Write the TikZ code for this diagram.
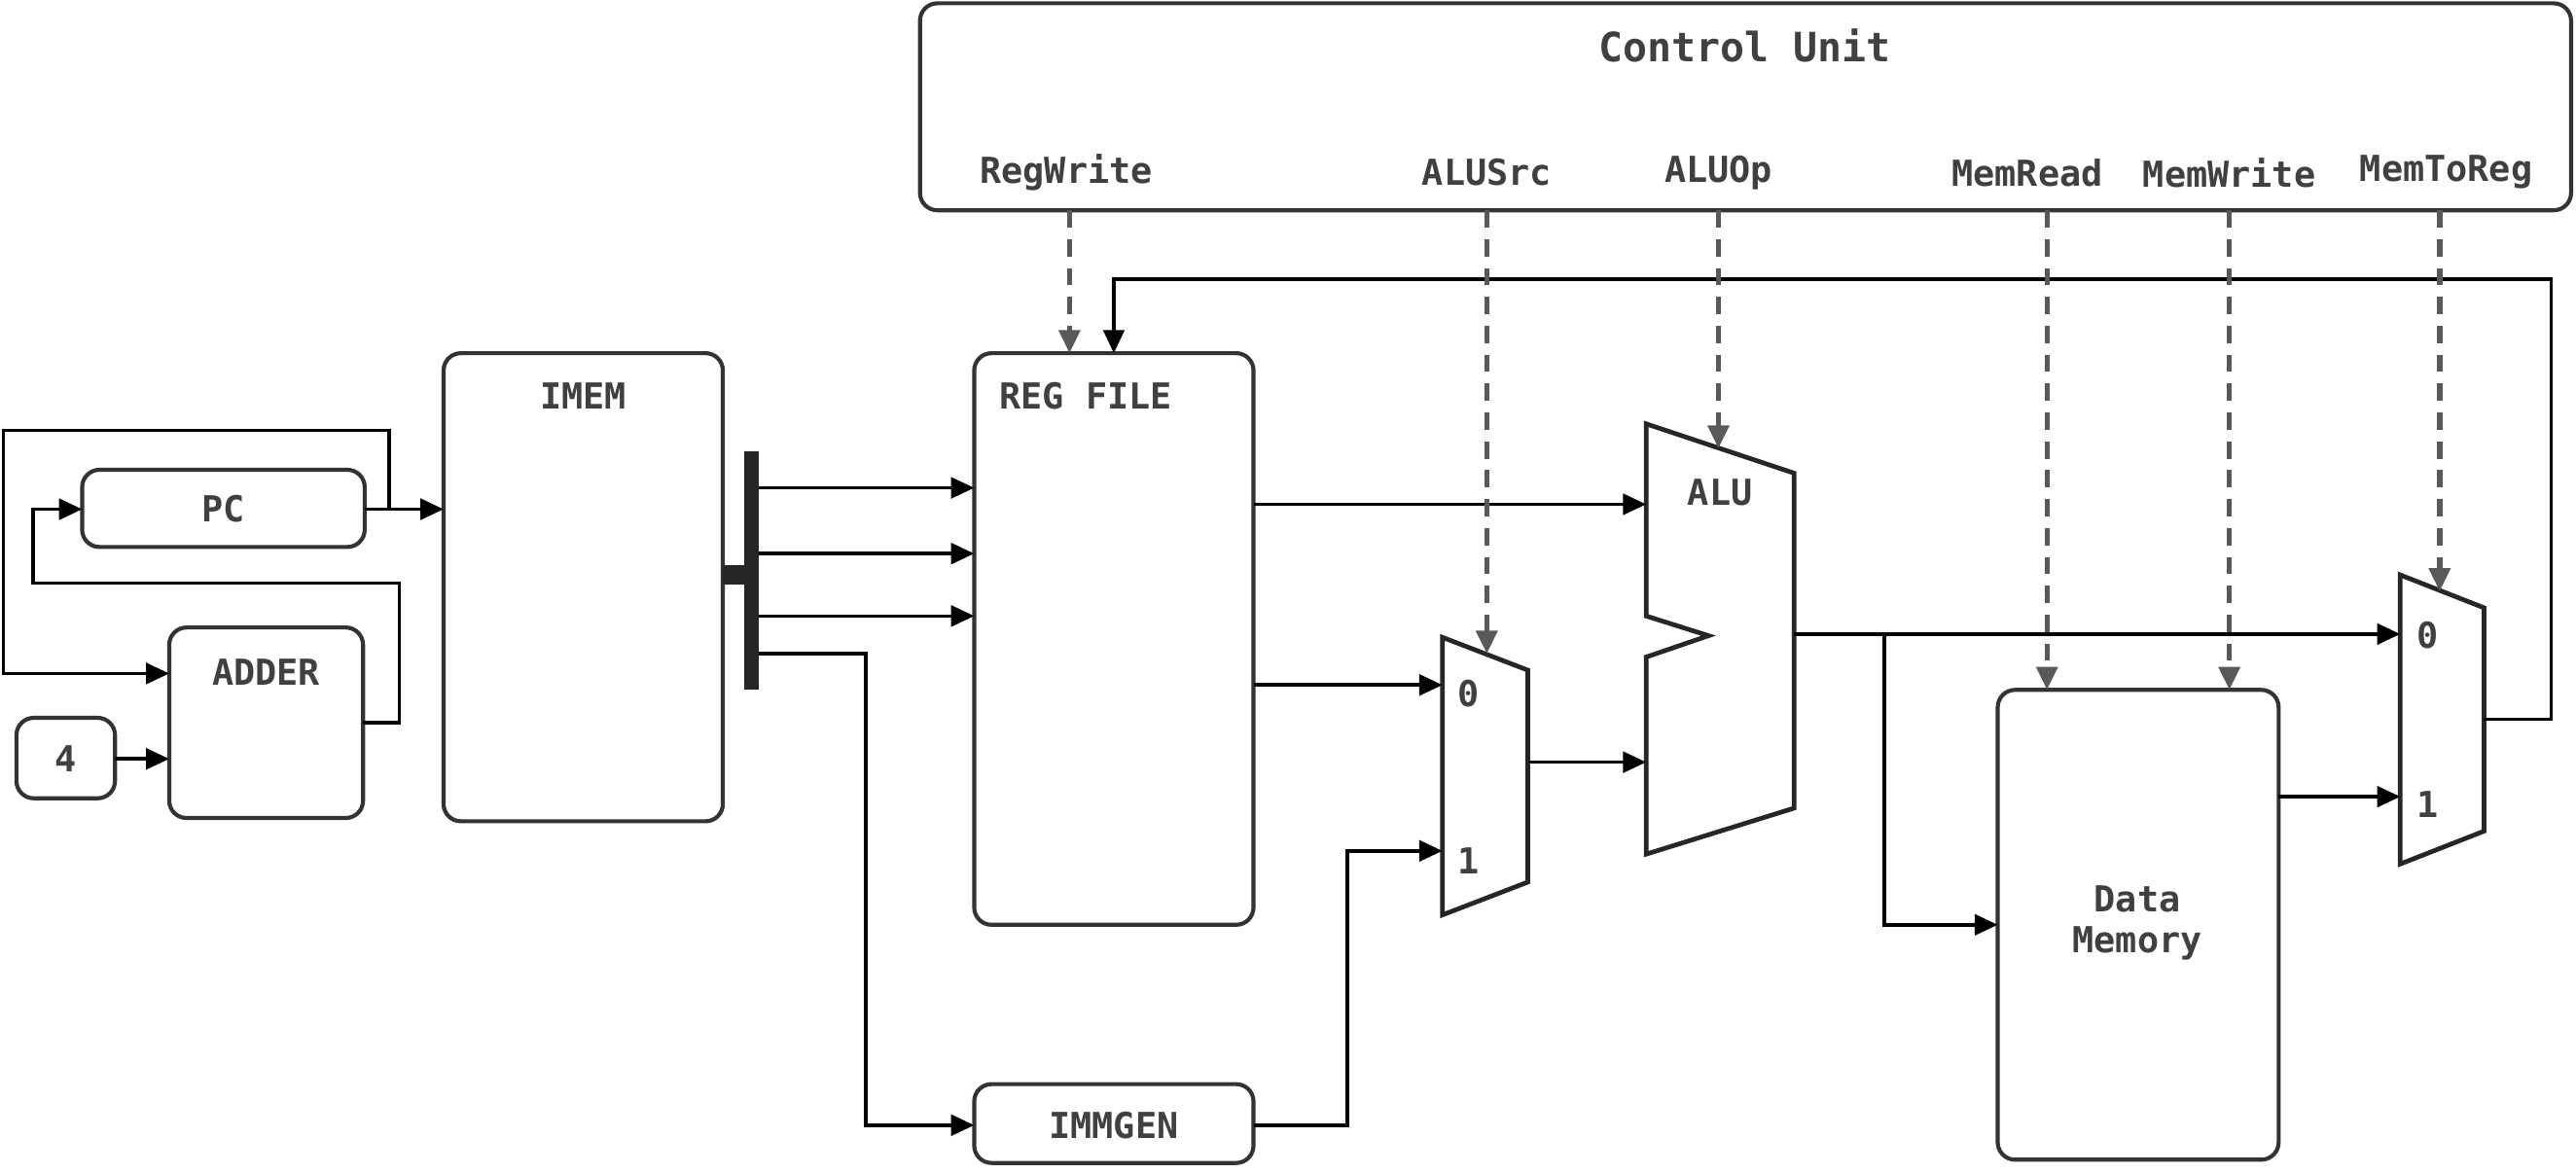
\documentclass[tikz,border=0pt]{standalone}
\usepackage{fontspec}
\setmonofont{DejaVu Sans Mono}
\usetikzlibrary{arrows.meta}
\begin{document}
\begin{tikzpicture}[x=0.01cm,y=-0.01cm,
  box/.style={draw=black!80,line width=0.7pt,rounded corners=3pt},
  lab/.style={font=\ttfamily\bfseries\fontsize{6.2}{7}\selectfont,text=black!75,inner sep=0},
  wire/.style={line width=0.6pt,-{Triangle[length=4pt,width=3.6pt]}},
  ctl/.style={draw=black!65,line width=0.9pt,dash pattern=on 3pt off 2pt,-{Triangle[length=4pt,width=3.6pt]}}]
\useasboundingbox (0,0) rectangle (1568,714);
% control unit
\draw[box] (560,2) rectangle (1565,128);
\node[lab,font=\ttfamily\bfseries\fontsize{7}{8}\selectfont] (cut) at (1062,28) {Control Unit};
\node[lab] (cRW) at (649,105) {RegWrite};
\node[lab] (cAS) at (905,105) {ALUSrc};
\node[lab] (cAO) at (1046,105) {ALUOp};
\node[lab] (cMR) at (1234,105) {MemRead};
\node[lab] (cMW) at (1357,105) {MemWrite};
\node[lab] (cMT) at (1489,105) {MemToReg};
\coordinate (sRW) at (651,128); \coordinate (sAS) at (905,128); \coordinate (sAO) at (1046,128);
\coordinate (sMR) at (1246,128); \coordinate (sMW) at (1357,128); \coordinate (sMT) at (1485,128);
% boxes
\draw[box] (270,215) rectangle (440,500); \node[lab] (imem) at (355,241) {IMEM};
\draw[box] (50,286) rectangle (222,333); \node[lab] (pc) at (136,310) {PC};
\draw[box] (103,382) rectangle (221,498); \node[lab] (adder) at (162,409) {ADDER};
\draw[box] (10,437) rectangle (70,486); \node[lab] (four) at (40,462) {4};
\draw[box] (593,215) rectangle (763,563); \node[lab] (rf) at (661,241) {REG FILE};
\draw[box] (593,660) rectangle (763,708); \node[lab] (imm) at (678,685) {IMMGEN};
\draw[box] (1216,420) rectangle (1387,706); \node[lab,align=center] (dm) at (1301,562) {Data\\Memory};
% ALU
\draw[draw=black!85,line width=0.8pt,line join=miter] (1002,258) -- (1092,288) -- (1092,492) -- (1002,520) -- (1002,400) -- (1040,387) -- (1002,375) -- cycle;
\node[lab] (alu) at (1047,300) {ALU};
% muxes
\draw[draw=black!85,line width=0.8pt] (878,388) -- (930,408) -- (930,537) -- (878,557) -- cycle;
\node[lab] (m0) at (894,422) {0}; \node[lab] (m1) at (894,524) {1};
\draw[draw=black!85,line width=0.8pt] (1461,350) -- (1512,370) -- (1512,506) -- (1461,526) -- cycle;
\node[lab] (n0) at (1478,387) {0}; \node[lab] (n1) at (1478,490) {1};
% bus
\fill[black!85] (453,275) rectangle (462,420);
\fill[black!85] (440,344) rectangle (457,356);
% wires
\draw[wire] (222,310) -- (270,310);
\draw[wire] (237,310) -- (237,262) -- (2,262) -- (2,410) -- (103,410);
\draw[wire] (221,440) -- (243,440) -- (243,355) -- (20,355) -- (20,310) -- (50,310);
\draw[wire] (70,462) -- (103,462);
\draw[wire] (462,297) -- (593,297);
\draw[wire] (462,337) -- (593,337);
\draw[wire] (462,375) -- (593,375);
\draw[wire] (462,398) -- (527,398) -- (527,685) -- (593,685);
\draw[wire] (763,307) -- (1002,307);
\draw[wire] (763,417) -- (878,417);
\draw[wire] (763,685) -- (820,685) -- (820,518) -- (878,518);
\draw[wire] (930,464) -- (1002,464);
\draw[wire] (1092,386) -- (1461,386);
\draw[wire] (1147,386) -- (1147,563) -- (1216,563);
\draw[wire] (1387,485) -- (1461,485);
\draw[wire] (1512,438) -- (1553,438) -- (1553,170) -- (678,170) -- (678,215);
% control
\draw[ctl] (sRW) -- (651,215);
\draw[ctl] (sAS) -- (905,398);
\draw[ctl] (sAO) -- (1046,273);
\draw[ctl] (sMR) -- (1246,420);
\draw[ctl] (sMW) -- (1357,420);
\draw[ctl] (sMT) -- (1485,360);
\end{tikzpicture}
\end{document}
